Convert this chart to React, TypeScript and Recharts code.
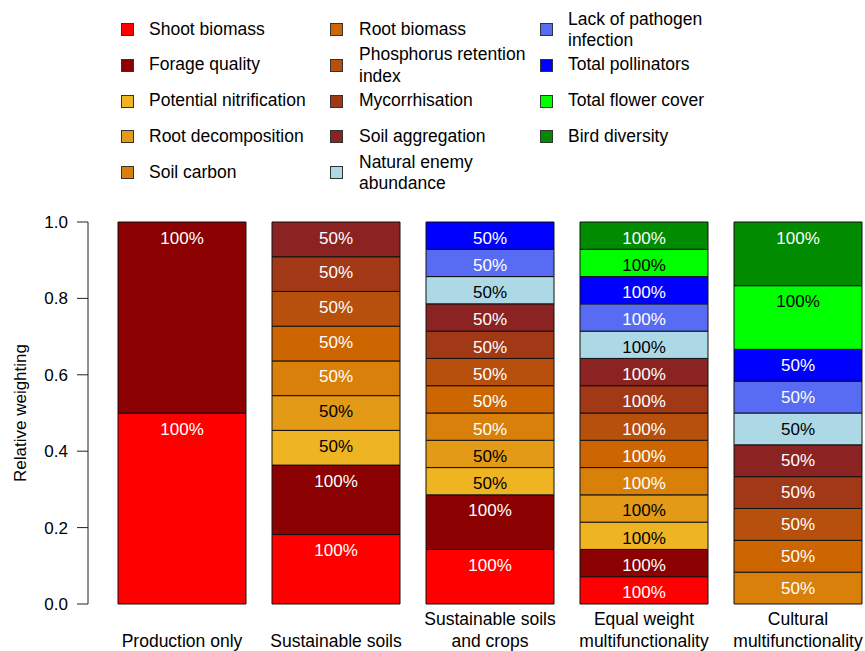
import React from 'react';
import { BarChart, Bar, XAxis, YAxis, LabelList, Label } from 'recharts';

// categories (x axis), "\n" marks the line breaks used under the bars
const categories = [
  'Production only',
  'Sustainable soils',
  'Sustainable soils\nand crops',
  'Equal weight\nmultifunctionality',
  'Cultural\nmultifunctionality',
];

// weight (%) given to each function in each scenario
const shootBiomass = [100, 100, 100, 100, 0];
const forageQuality = [100, 100, 100, 100, 0];
const potentialNitrification = [0, 50, 50, 100, 0];
const rootDecomposition = [0, 50, 50, 100, 0];
const soilCarbon = [0, 50, 50, 100, 50];
const rootBiomass = [0, 50, 50, 100, 50];
const phosphorusRetention = [0, 50, 50, 100, 50];
const mycorrhisation = [0, 50, 50, 100, 50];
const soilAggregation = [0, 50, 50, 100, 50];
const naturalEnemy = [0, 0, 50, 100, 50];
const pathogenLack = [0, 0, 50, 100, 50];
const pollinators = [0, 0, 50, 100, 50];
const flowerCover = [0, 0, 0, 100, 100];
const birdDiversity = [0, 0, 0, 100, 100];

const yTicks = [0, 0.2, 0.4, 0.6, 0.8, 1.0];

// stacking order, bottom to top
const series = [
  { key: 'shoot', name: 'Shoot biomass', color: '#FF0000', values: shootBiomass },
  { key: 'forage', name: 'Forage quality', color: '#8B0000', values: forageQuality },
  { key: 'nitrif', name: 'Potential nitrification', color: '#EEB422', values: potentialNitrification },
  { key: 'rootDecomp', name: 'Root decomposition', color: '#E39A17', values: rootDecomposition },
  { key: 'soilC', name: 'Soil carbon', color: '#D88009', values: soilCarbon },
  { key: 'rootBio', name: 'Root biomass', color: '#CD6600', values: rootBiomass },
  { key: 'phos', name: 'Phosphorus retention\nindex', color: '#B7500C', values: phosphorusRetention },
  { key: 'myco', name: 'Mycorrhisation', color: '#A13917', values: mycorrhisation },
  { key: 'soilAgg', name: 'Soil aggregation', color: '#8B2323', values: soilAggregation },
  { key: 'enemy', name: 'Natural enemy\nabundance', color: '#ADD8E6', values: naturalEnemy },
  { key: 'pathogen', name: 'Lack of pathogen\ninfection', color: '#576CF2', values: pathogenLack },
  { key: 'pollin', name: 'Total pollinators', color: '#0000FF', values: pollinators },
  { key: 'flower', name: 'Total flower cover', color: '#00FF00', values: flowerCover },
  { key: 'bird', name: 'Bird diversity', color: '#008B00', values: birdDiversity },
];

const darkLabelKeys = ['nitrif', 'rootDecomp', 'enemy', 'flower'];

const legendColumns = [
  ['shoot', 'forage', 'nitrif', 'rootDecomp', 'soilC'],
  ['rootBio', 'phos', 'myco', 'soilAgg', 'enemy'],
  ['pathogen', 'pollin', 'flower', 'bird'],
];

const data = categories.map((name, i) => {
  const row: Record<string, any> = { name };
  series.forEach((s) => {
    row[s.key] = s.values[i];
  });
  return row;
});

const FONT = '"Liberation Sans", Arial, Helvetica, sans-serif';

function CategoryTick(props: any) {
  const { x, y, payload } = props;
  const lines = String(payload.value).split('\n');
  const n = lines.length;
  return (
    <g>
      {lines.map((line, i) => (
        <text
          key={i}
          x={x}
          y={y + 36.5 - (n - 1 - i) * 21.5}
          textAnchor="middle"
          dominantBaseline="central"
          fontSize={17.5}
          fill="#000"
        >
          {line}
        </text>
      ))}
    </g>
  );
}

function makeSegmentLabel(textColor: string) {
  return (props: any) => {
    const { x, y, width, value } = props;
    if (!value) return null;
    return (
      <text
        x={x + width / 2}
        y={y + 16}
        textAnchor="middle"
        dominantBaseline="central"
        fontSize={17}
        fill={textColor}
      >
        {value}%
      </text>
    );
  };
}

function Legend() {
  const squareX = [121, 330, 540];
  const textX = [149, 359, 568];
  return (
    <>
      {legendColumns.map((col, c) =>
        col.map((key, r) => {
          const s = series.find((d) => d.key === key)!;
          const cy = 29.5 + r * 35.75;
          return (
            <React.Fragment key={key}>
              <div
                style={{
                  position: 'absolute',
                  left: squareX[c],
                  top: cy - 6.5,
                  width: 13,
                  height: 13,
                  boxSizing: 'border-box',
                  border: '1px solid #333',
                  background: s.color,
                }}
              />
              <div
                style={{
                  position: 'absolute',
                  left: textX[c],
                  top: cy,
                  transform: 'translateY(-50%)',
                  fontSize: 17.5,
                  lineHeight: '21.5px',
                  color: '#000',
                  whiteSpace: 'pre',
                  fontFamily: FONT,
                }}
              >
                {s.name}
              </div>
            </React.Fragment>
          );
        })
      )}
    </>
  );
}

export default function App() {
  return (
    <div style={{ position: 'absolute', left: 0, top: 0, width: 865, height: 651, background: '#fff', fontFamily: FONT }}>
      <Legend />
      <div style={{ position: 'absolute', left: 0, top: 0 }}>
        <BarChart
          width={865}
          height={651}
          data={data}
          stackOffset="expand"
          margin={{ top: 222, right: -10, bottom: 0, left: 0 }}
          style={{ fontFamily: FONT }}
        >
          <XAxis
            dataKey="name"
            type="category"
            height={47}
            axisLine={false}
            tickLine={false}
            tickSize={0}
            tickMargin={0}
            padding={{ left: 17, right: 0 }}
            interval={0}
            tick={<CategoryTick />}
          />
          <YAxis
            width={88}
            domain={[0, 1]}
            ticks={yTicks}
            tickFormatter={(v: number) => v.toFixed(1)}
            tickSize={11}
            tickMargin={9}
            axisLine={{ stroke: '#222' }}
            tickLine={{ stroke: '#222' }}
            tick={{ fontSize: 17, fill: '#000' }}
          >
            <Label
              content={(props: any) => {
                const vb = props.viewBox || { x: 0, y: 222, width: 88, height: 382 };
                const cx = vb.x + 20;
                const cy = vb.y + vb.height / 2;
                return (
                  <text
                    x={cx}
                    y={cy}
                    transform={`rotate(-90, ${cx}, ${cy})`}
                    textAnchor="middle"
                    dominantBaseline="central"
                    fontSize={17}
                    fill="#000"
                  >
                    Relative weighting
                  </text>
                );
              }}
            />
          </YAxis>
          {series.map((s) => (
            <Bar
              key={s.key}
              dataKey={s.key}
              name={s.name}
              stackId="w"
              fill={s.color}
              stroke="#111"
              strokeWidth={1}
              barSize={128}
              isAnimationActive={false}
            >
              <LabelList
                dataKey={s.key}
                content={makeSegmentLabel(darkLabelKeys.includes(s.key) ? '#000' : '#fff')}
              />
            </Bar>
          ))}
        </BarChart>
      </div>
    </div>
  );
}
